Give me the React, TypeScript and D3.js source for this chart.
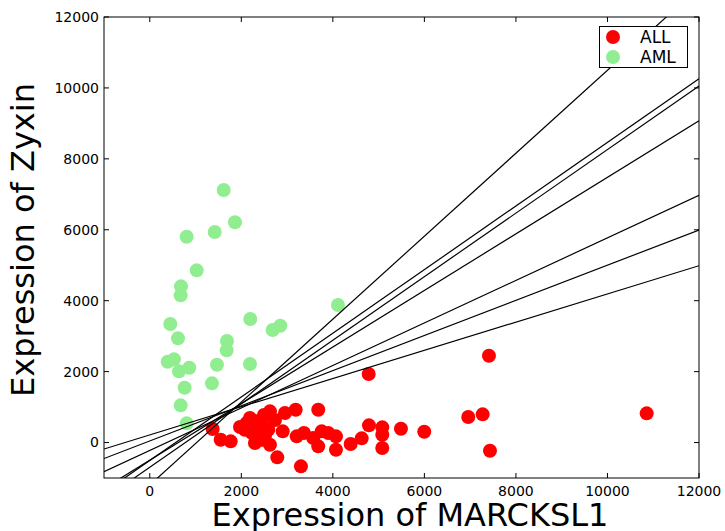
import React from 'react';
import * as d3 from 'd3';

// ALL samples: [MARCKSL1, Zyxin]
const allPoints = [
    [1374, 381], [1549, 79], [1768, 34], [2080, 361], [2189, 691], [2336, 598],
    [2117, 550], [2298, -14], [2445, 79], [2626, 880], [2589, 361], [2626, -62],
    [2904, 316], [2954, 832], [3188, 925], [2786, -417], [3210, 175], [3369, 268],
    [3303, -671], [3681, 925], [3572, 127], [3756, 316], [3681, -107], [3900, 268],
    [4068, 175], [4068, -203], [4389, -42], [4630, 118], [4789, 485], [5080, 429],
    [5080, 220], [5080, -155], [5488, 389], [5997, 305], [6959, 719], [7273, 795],
    [7433, -231], [10857, 823], [4783, 1932], [7411, 2448], [2364, 409], [2451, 550],
    [1971, 437], [2517, 183], [2233, 268], [2735, 635], [2495, 775]
];

// AML samples
const amlPoints = [
    [1615, 7121], [1861, 6210], [806, 5804], [1418, 5936], [1025, 4856], [682, 4405],
    [675, 4151], [4112, 3878], [448, 3342], [2196, 3483], [2685, 3173], [2851, 3294],
    [616, 2938], [1687, 2862], [1680, 2600], [391, 2279], [529, 2346], [638, 2008],
    [863, 2109], [1468, 2194], [2189, 2214], [762, 1545], [1359, 1669], [675, 1049],
    [806, 541]
];

// separating lines y = slope * x + intercept
const lineSlopes = [0.3976, 0.4957, 0.5996, 0.7977, 0.8958, 0.8971, 1.1695];
const lineIntercepts = [215, 45, -224, -497, -697, -506, -1198];

const xTicks = [0, 2000, 4000, 6000, 8000, 10000, 12000];
const yTicks = [0, 2000, 4000, 6000, 8000, 10000, 12000];

const width = 725;
const height = 531;
const margin = { left: 104, right: 26, top: 17, bottom: 53 };
const font = '"DejaVu Sans", sans-serif';

export default function App() {
    const x = d3.scaleLinear().domain([-1000, 12000]).range([margin.left, width - margin.right]);
    const y = d3.scaleLinear().domain([-1000, 12000]).range([height - margin.bottom, margin.top]);
    const [x0, x1] = x.range();
    const [y0, y1] = y.range();

    const line = d3.line<number[]>()
        .x(d => x(d[0]))
        .y(d => y(d[1]));

    return (
        <svg width={width} height={height} style={{ position: 'absolute', left: 0, top: 0, background: '#fff' }}
            fontFamily={font}>
            <defs>
                <clipPath id="plot-clip">
                    <rect x={x0} y={y1} width={x1 - x0} height={y0 - y1} />
                </clipPath>
            </defs>
            <rect x={0} y={0} width={width} height={height} fill="#fff" />

            <g clipPath="url(#plot-clip)">
                {allPoints.map((d, i) => (
                    <circle key={'all' + i} cx={x(d[0])} cy={y(d[1])} r={7} fill="#ff0000" />
                ))}
                {amlPoints.map((d, i) => (
                    <circle key={'aml' + i} cx={x(d[0])} cy={y(d[1])} r={7} fill="#90ee90" />
                ))}
                {lineSlopes.map((m, i) => (
                    <path key={'l' + i}
                        d={line([[-1000, m * -1000 + lineIntercepts[i]], [12000, m * 12000 + lineIntercepts[i]]]) || ''}
                        fill="none" stroke="#000" strokeWidth={1.2} />
                ))}
            </g>

            {/* ticks on all four sides, pointing inward */}
            {xTicks.map(t => (
                <g key={'xt' + t}>
                    <line x1={x(t)} x2={x(t)} y1={y0} y2={y0 - 5} stroke="#000" />
                    <line x1={x(t)} x2={x(t)} y1={y1} y2={y1 + 5} stroke="#000" />
                    <text x={x(t)} y={y0 + 18} fontSize={14} textAnchor="middle">{t}</text>
                </g>
            ))}
            {yTicks.map(t => (
                <g key={'yt' + t}>
                    <line x1={x0} x2={x0 + 5} y1={y(t)} y2={y(t)} stroke="#000" />
                    <line x1={x1} x2={x1 - 5} y1={y(t)} y2={y(t)} stroke="#000" />
                    <text x={x0 - 5} y={y(t)} dy="0.35em" fontSize={14} textAnchor="end">{t}</text>
                </g>
            ))}

            <rect x={x0} y={y1} width={x1 - x0} height={y0 - y1} fill="none" stroke="#000" strokeWidth={1} />

            {/* legend */}
            <g>
                <rect x={599.5} y={26.5} width={88} height={41} fill="#fff" stroke="#000" strokeWidth={1} />
                <circle cx={613} cy={37} r={7} fill="#ff0000" />
                <circle cx={613} cy={57} r={7} fill="#90ee90" />
                <text x={640} y={43} fontSize={17}>ALL</text>
                <text x={640} y={63} fontSize={17}>AML</text>
            </g>

            <text x={410} y={526} fontSize={32} textAnchor="middle">Expression of MARCKSL1</text>
            <text transform="translate(34, 240) rotate(-90)" fontSize={32} textAnchor="middle">
                Expression of Zyxin
            </text>
        </svg>
    );
}
